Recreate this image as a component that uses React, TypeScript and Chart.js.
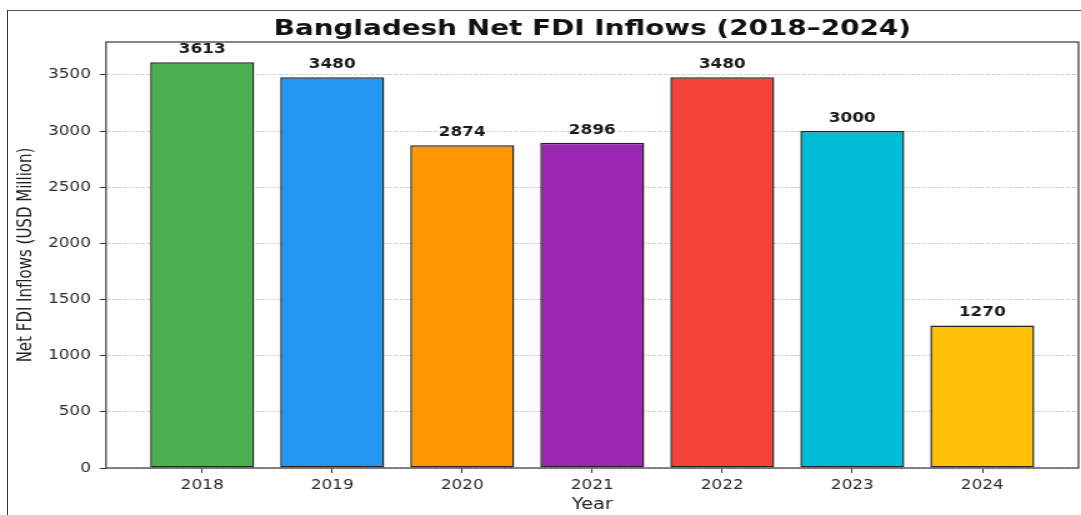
import { useEffect, useRef } from 'react';
import { Chart, registerables } from 'chart.js';

Chart.register(...registerables);

const years = ['2018', '2019', '2020', '2021', '2022', '2023', '2024'];
const fdiValues = [3613, 3480, 2874, 2896, 3480, 3000, 1270];
const barColors = ['#4CAF50', '#2196F3', '#FF9800', '#9C27B0', '#F44336', '#00BCD4', '#FFC107'];
const yTickValues = [0, 500, 1000, 1500, 2000, 2500, 3000, 3500];
const titleText = 'Bangladesh Net FDI Inflows (2018–2024)';
const xLabel = 'Year';
const yLabel = 'Net FDI Inflows (USD Million)';

const SCREEN_W = 1081;
const H = 515;
const W = 865; // internal canvas width (the reference is horizontally stretched)

const FONT = '"DejaVu Sans", "Noto Sans", sans-serif';

const decorPlugin = {
  id: 'decor',
  afterDatasetsDraw(chart: any) {
    const { ctx, chartArea: a } = chart;
    ctx.save();
    // axes frame
    ctx.strokeStyle = '#444';
    ctx.lineWidth = 1.3;
    ctx.strokeRect(a.left, a.top, a.right - a.left, a.bottom - a.top);
    // value labels
    const meta = chart.getDatasetMeta(0);
    ctx.font = `bold 13.5px ${FONT}`;
    ctx.fillStyle = '#1a1a1a';
    ctx.textAlign = 'center';
    ctx.textBaseline = 'alphabetic';
    meta.data.forEach((bar: any, i: number) => {
      ctx.fillText(String(fdiValues[i]), bar.x, bar.y - 9);
    });
    // title
    ctx.font = `bold 20.5px ${FONT}`;
    const w = ctx.measureText(titleText).width;
    const target = 510;
    const cx = (a.left + a.right) / 2;
    ctx.translate(cx, 35);
    ctx.scale(target / w, 1);
    ctx.fillStyle = '#111';
    ctx.fillText(titleText, 0, 0);
    ctx.restore();
  },
};

export default function App() {
  const ref = useRef<HTMLCanvasElement | null>(null);

  useEffect(() => {
    if (!ref.current) return;
    const xMin = -0.4 - 0.05 * (years.length - 1 + 0.8);
    const xMax = years.length - 1 + 0.4 + 0.05 * (years.length - 1 + 0.8);
    const yMax = Math.max(...fdiValues) * 1.05;
    const chart = new Chart(ref.current, {
      type: 'bar',
      data: {
        datasets: [
          {
            data: fdiValues.map((v, i) => ({ x: i, y: v })),
            backgroundColor: barColors,
            borderColor: '#222',
            borderWidth: 1.5,
            borderSkipped: false,
            categoryPercentage: 0.8,
            barPercentage: 1,
          },
        ],
      },
      options: {
        animation: false,
        responsive: false,
        devicePixelRatio: 1,
        layout: { padding: { left: 0, right: 2, top: 42, bottom: 0 } },
        plugins: {
          legend: { display: false },
          tooltip: { enabled: false },
          title: { display: false },
        },
        scales: {
          x: {
            type: 'linear',
            min: xMin,
            max: xMax,
            offset: false,
            afterBuildTicks: (scale: any) => {
              scale.ticks = years.map((_, i) => ({ value: i }));
            },
            afterFit: (scale: any) => {
              scale.height = 47;
            },
            ticks: {
              callback: (v: any) => years[Math.round(Number(v))] ?? '',
              font: { family: FONT, size: 13.5 },
              color: '#2a2a2a',
              padding: 4,
              maxRotation: 0,
              autoSkip: false,
            },
            grid: {
              display: true,
              drawOnChartArea: false,
              drawTicks: true,
              tickLength: 5,
              tickColor: '#333',
              tickWidth: 1,
              offset: false,
            },
            border: { display: false },
            title: {
              display: true,
              text: xLabel,
              font: { family: FONT, size: 15.5 },
              color: '#222',
              padding: { top: 0, bottom: 1 },
            },
          },
          y: {
            type: 'linear',
            min: 0,
            max: yMax,
            afterBuildTicks: (scale: any) => {
              scale.ticks = yTickValues.map((v) => ({ value: v }));
            },
            afterFit: (scale: any) => {
              scale.width = 84.8;
            },
            ticks: {
              font: { family: FONT, size: 13.5 },
              color: '#2a2a2a',
              padding: 7,
              callback: (v: any) => String(v),
            },
            grid: {
              color: '#cfcfcf',
              lineWidth: 1,
              drawTicks: true,
              tickLength: 5,
              tickColor: '#333',
              tickWidth: 1,
              tickBorderDash: [],
            },
            border: { display: false, dash: [3, 1.6] },
            title: {
              display: true,
              text: yLabel,
              font: { family: FONT, size: 15 },
              color: '#222',
              padding: { top: 12, bottom: 0 },
            },
          },
        },
      },
      plugins: [decorPlugin],
    });
    return () => chart.destroy();
  }, []);

  return (
    <div style={{ position: 'absolute', left: 0, top: 0, width: SCREEN_W, height: H, background: '#fff', overflow: 'hidden' }}>
      <canvas
        ref={ref}
        width={W}
        height={H}
        style={{ position: 'absolute', left: 0, top: 0, width: `${SCREEN_W}px`, height: `${H}px`, display: 'block' }}
      />
      <div style={{ position: 'absolute', left: 7, top: 10, width: SCREEN_W - 7, height: 1, background: '#555' }} />
      <div style={{ position: 'absolute', left: 7, top: 10, width: 1, height: H - 10, background: '#333' }} />
    </div>
  );
}
